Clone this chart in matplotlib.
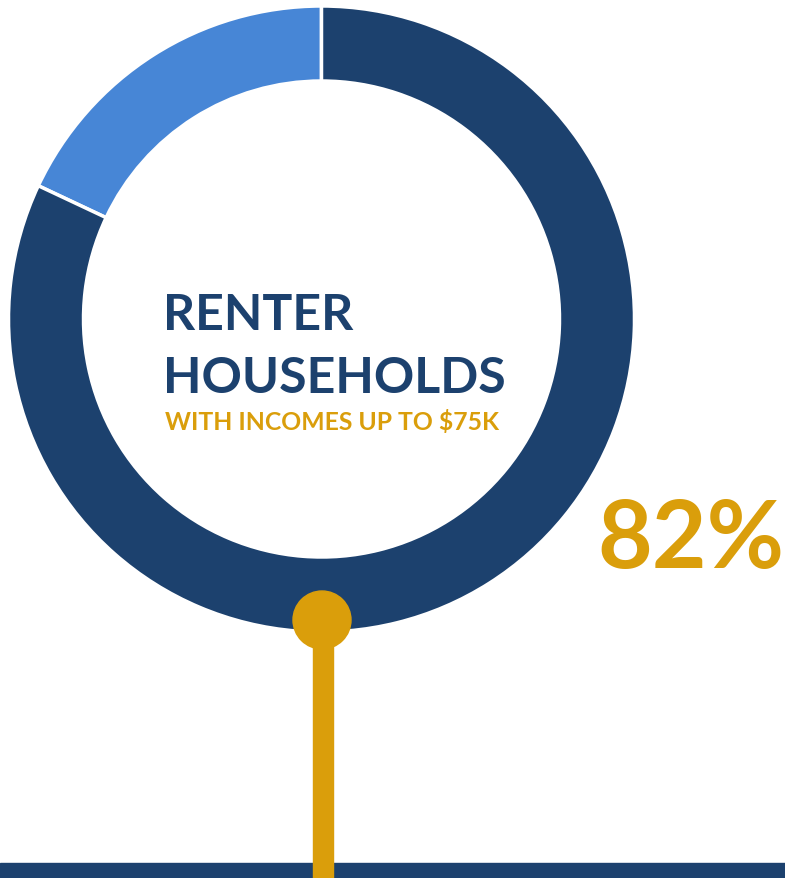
import matplotlib
matplotlib.use("Agg")
import matplotlib.pyplot as plt
from matplotlib.patches import Circle, Rectangle

# data
labels = ["Other", "Renter households up to $75K"]
shares = [18, 82]
colors = ["#4786D6", "#1C416E"]
headline = ["RENTER", "HOUSEHOLDS"]
subline = "WITH INCOMES UP TO $75K"
pct_label = "82%"

W, H = 785, 879
DARK = "#1C416E"
GOLD = "#DA9E0B"

fig = plt.figure(figsize=(W / 100, H / 100), dpi=100)
ax = fig.add_axes([0, 0, 1, 1])

cx, cy = 321.5, H - 320
ax.pie(shares, colors=colors, startangle=90, counterclock=True,
       center=(cx, cy), radius=313,
       wedgeprops=dict(width=75, edgecolor="white", linewidth=2.5))

# bottom bar
ax.add_patch(Rectangle((0, 0), W, 15, color=DARK, zorder=3))
# pin
ax.add_patch(Rectangle((313, 0), 20, H - 621, color=GOLD, zorder=4))
ax.add_patch(Circle((322, H - 621), 29, color=GOLD, zorder=5))

font = "Lato"
ax.text(163, H - 330, headline[0], color=DARK, fontsize=36, fontweight="bold",
        family=font, va="baseline", ha="left")
ax.text(163, H - 393, headline[1], color=DARK, fontsize=36, fontweight="bold",
        family=font, va="baseline", ha="left")
ax.text(165, H - 430, subline, color=GOLD, fontsize=17.8, fontweight="bold",
        family=font, va="baseline", ha="left")
ax.text(597, H - 568, pct_label, color=GOLD, fontsize=68, fontweight="bold",
        family=font, va="baseline", ha="left")

ax.set_xlim(0, W)
ax.set_ylim(0, H)
ax.set_aspect("equal")
ax.axis("off")

fig.savefig("out.png", dpi=100)
